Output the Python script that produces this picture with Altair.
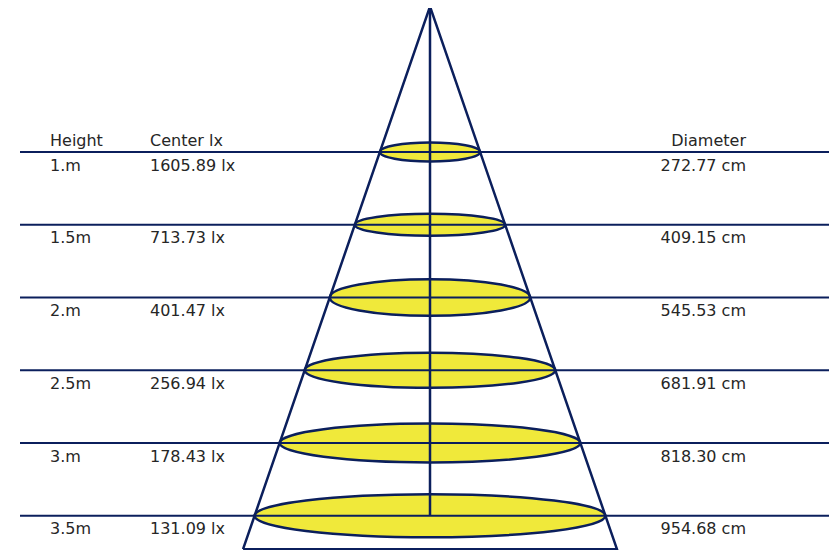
import altair as alt
import pandas as pd

# ---------------- data ----------------
heights_m = [1.0, 1.5, 2.0, 2.5, 3.0, 3.5]
height_labels = ["1.m", "1.5m", "2.m", "2.5m", "3.m", "3.5m"]
center_lux = [1605.89, 713.73, 401.47, 256.94, 178.43, 131.09]
diameters_cm = [272.77, 409.15, 545.53, 681.91, 818.30, 954.68]
headers = ["Height", "Center lx", "Diameter"]

# ---------------- style / layout ----------------
W, H = 821, 542
NAVY = "#0b1f5c"
YELLOW = "#f0e93a"
TEXT = "#262626"
FONT = "DejaVu Sans"
FS = 16
PX_PER_CM = 0.3675          # horizontal drawing scale
AXIS_X = 422                # chart px of the cone axis
PX_PER_M = 145.5            # vertical drawing scale
APEX_Y = -1.5               # chart px of height 0
BASE_H = 3.73               # where the cone drawing is cut off
ELLIPSE_ASPECT = [0.188, 0.146, 0.183, 0.14, 0.129, 0.1225]
K = 0.5523

x_scale = alt.Scale(domain=[-AXIS_X / PX_PER_CM, (W - AXIS_X) / PX_PER_CM], nice=False, zero=False)
y_scale = alt.Scale(domain=[-APEX_Y / PX_PER_M, (H - APEX_Y) / PX_PER_M], reverse=True, nice=False, zero=False)


def ellipse_path(ry):
    return (f"M-1,0 C-1,{-K*ry:.4f} {-K:.4f},{-ry:.4f} 0,{-ry:.4f} "
            f"C{K:.4f},{-ry:.4f} 1,{-K*ry:.4f} 1,0 "
            f"C1,{K*ry:.4f} {K:.4f},{ry:.4f} 0,{ry:.4f} "
            f"C{-K:.4f},{ry:.4f} -1,{K*ry:.4f} -1,0 Z")


rows = pd.DataFrame({
    "h": heights_m,
    "hlabel": height_labels,
    "lux": [f"{v:.2f} lx" for v in center_lux],
    "diam": diameters_cm,
    "dlabel": [f"{v:.2f} cm" for v in diameters_cm],
    "x0": [0.0] * len(heights_m),
    "shape": [ellipse_path(a) for a in ELLIPSE_ASPECT],
})

cm_per_m = diameters_cm[0] / heights_m[0]
base_r = cm_per_m * BASE_H / 2
cone = pd.DataFrame({
    "x": [-base_r, 0.0, base_r, -base_r],
    "h": [BASE_H, 0.0, BASE_H, BASE_H],
    "o": [0, 1, 2, 3],
})
axis_df = pd.DataFrame({"x": [0.0], "h0": [0.0], "h1": [heights_m[-1]]})
head_df = pd.DataFrame({"t": headers, "h": [heights_m[0]] * 3})

ellipses = alt.Chart(rows).mark_point(
    filled=True, fill=YELLOW, stroke=NAVY, strokeWidth=2.5, opacity=1, fillOpacity=1
).encode(
    x=alt.X("x0:Q", scale=x_scale, axis=None),
    y=alt.Y("h:Q", scale=y_scale, axis=None),
    size=alt.Size("diam:Q", scale=alt.Scale(type="pow", exponent=2, domain=[0, 1000],
                                             range=[0, (PX_PER_CM * 1000) ** 2]), legend=None),
    shape=alt.Shape("shape:N", scale=None),
)

hlines = alt.Chart(rows).mark_rule(color=NAVY, strokeWidth=2).encode(
    y=alt.Y("h:Q", scale=y_scale, axis=None),
    x=alt.value(12), x2=alt.value(822),
)

cone_line = alt.Chart(cone).mark_line(color=NAVY, strokeWidth=2.5).encode(
    x=alt.X("x:Q", scale=x_scale, axis=None),
    y=alt.Y("h:Q", scale=y_scale, axis=None),
    order="o:Q",
)

center = alt.Chart(axis_df).mark_rule(color=NAVY, strokeWidth=2.5).encode(
    x=alt.X("x:Q", scale=x_scale, axis=None),
    y=alt.Y("h0:Q", scale=y_scale, axis=None),
    y2="h1:Q",
)

txt = dict(font=FONT, fontSize=FS, color=TEXT, baseline="alphabetic")
lab_h = alt.Chart(rows).mark_text(align="left", dy=18.5, **txt).encode(
    y=alt.Y("h:Q", scale=y_scale, axis=None), x=alt.value(42), text="hlabel:N")
lab_l = alt.Chart(rows).mark_text(align="left", dy=18.5, **txt).encode(
    y=alt.Y("h:Q", scale=y_scale, axis=None), x=alt.value(142), text="lux:N")
lab_d = alt.Chart(rows).mark_text(align="right", dy=18.5, **txt).encode(
    y=alt.Y("h:Q", scale=y_scale, axis=None), x=alt.value(738), text="dlabel:N")

head_base = alt.Chart(head_df)
h1 = head_base.transform_filter(alt.datum.t == headers[0]).mark_text(align="left", dy=-6, **txt).encode(
    y=alt.Y("h:Q", scale=y_scale, axis=None), x=alt.value(42), text="t:N")
h2 = head_base.transform_filter(alt.datum.t == headers[1]).mark_text(align="left", dy=-6, **txt).encode(
    y=alt.Y("h:Q", scale=y_scale, axis=None), x=alt.value(142), text="t:N")
h3 = head_base.transform_filter(alt.datum.t == headers[2]).mark_text(align="right", dy=-6, **txt).encode(
    y=alt.Y("h:Q", scale=y_scale, axis=None), x=alt.value(738), text="t:N")

chart = alt.layer(ellipses, hlines, cone_line, center, lab_h, lab_l, lab_d, h1, h2, h3).properties(
    width=W, height=H, padding=0, autosize=alt.AutoSizeParams(type="none")
).configure_view(stroke=None)

chart.save("out.html", embed_options={"renderer": "svg", "actions": False})
